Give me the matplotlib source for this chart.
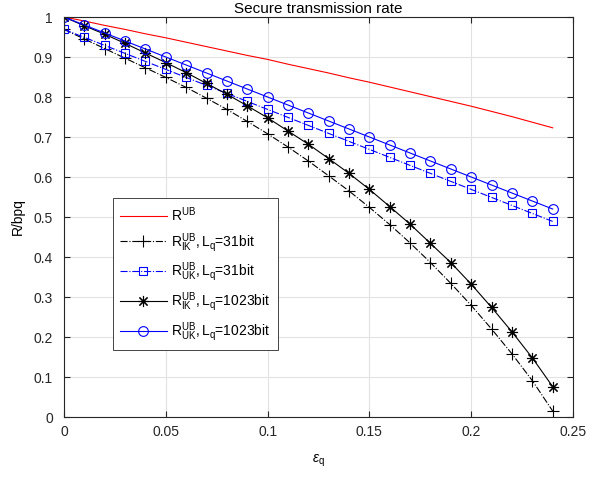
import matplotlib
matplotlib.use("Agg")
import matplotlib.pyplot as plt

plt.rcParams['font.family'] = ['Liberation Sans', 'DejaVu Sans']
plt.rcParams['mathtext.fontset'] = 'custom'
plt.rcParams['mathtext.rm'] = 'Liberation Sans'
plt.rcParams['mathtext.it'] = 'Liberation Sans:italic'

# quantization error probability
eps_q = [0.00, 0.01, 0.02, 0.03, 0.04, 0.05, 0.06, 0.07, 0.08, 0.09,
         0.10, 0.11, 0.12, 0.13, 0.14, 0.15, 0.16, 0.17, 0.18, 0.19,
         0.20, 0.21, 0.22, 0.23, 0.24]

# upper bound rate
r_ub = [1.000, 0.990, 0.979, 0.969, 0.958, 0.948, 0.937, 0.926, 0.915, 0.904,
        0.894, 0.882, 0.871, 0.860, 0.848, 0.837, 0.825, 0.813, 0.801, 0.789,
        0.777, 0.764, 0.751, 0.737, 0.723]

# known / unknown key, Lq = 31 bit
r_ik_31 = [0.969, 0.945, 0.921, 0.897, 0.873, 0.849, 0.824, 0.797, 0.769, 0.739,
           0.708, 0.675, 0.640, 0.603, 0.565, 0.524, 0.481, 0.435, 0.386, 0.334,
           0.279, 0.220, 0.158, 0.091, 0.015]
r_uk_31 = [0.969, 0.949, 0.929, 0.909, 0.889, 0.869, 0.849, 0.829, 0.809, 0.789,
           0.769, 0.749, 0.729, 0.709, 0.689, 0.669, 0.649, 0.629, 0.609, 0.589,
           0.569, 0.549, 0.529, 0.509, 0.489]

# known / unknown key, Lq = 1023 bit
r_ik_1023 = [1.000, 0.978, 0.957, 0.934, 0.910, 0.886, 0.861, 0.834, 0.807, 0.778,
             0.748, 0.715, 0.682, 0.646, 0.609, 0.569, 0.526, 0.482, 0.434, 0.386,
             0.332, 0.274, 0.213, 0.148, 0.076]
r_uk_1023 = [1.00, 0.98, 0.96, 0.94, 0.92, 0.90, 0.88, 0.86, 0.84, 0.82,
             0.80, 0.78, 0.76, 0.74, 0.72, 0.70, 0.68, 0.66, 0.64, 0.62,
             0.60, 0.58, 0.56, 0.54, 0.52]

fig = plt.figure(figsize=(6.04, 4.78), dpi=100)
ax = fig.add_axes([0.106, 0.1276, 0.8427, 0.8368])

lw = 0.8
ax.plot(eps_q, r_ub, color='red', lw=lw, label=r'$\mathregular{R^{UB}}$')
ax.plot(eps_q, r_ik_31, color='black', ls='-.', lw=lw, marker='+', ms=8,
        mew=0.8, label=r'$\mathregular{R^{UB}_{IK},L_q}$=31bit')
ax.plot(eps_q, r_uk_31, color='blue', ls='-.', lw=lw, marker='s', ms=5.5,
        mew=0.8, mfc='none', label=r'$\mathregular{R^{UB}_{UK},L_q}$=31bit')
ax.plot(eps_q, r_ik_1023, color='black', ls='-', lw=lw, marker=(8, 2, 0), ms=8,
        mew=0.8, label=r'$\mathregular{R^{UB}_{IK},L_q}$=1023bit')
ax.plot(eps_q, r_uk_1023, color='blue', ls='-', lw=lw, marker='o', ms=7,
        mew=0.8, mfc='none', label=r'$\mathregular{R^{UB}_{UK},L_q}$=1023bit')

ax.set_xlim(0, 0.25)
ax.set_ylim(0, 1)
ax.set_xticks([0, 0.05, 0.1, 0.15, 0.2, 0.25])
ax.set_xticklabels(['0', '0.05', '0.1', '0.15', '0.2', '0.25'])
ax.set_yticks([i / 10 for i in range(11)])
ax.set_yticklabels(['0', '0.1', '0.2', '0.3', '0.4', '0.5', '0.6', '0.7', '0.8', '0.9', '1'])

ax.grid(True, color='#e2e2e2', lw=0.8)
ax.set_axisbelow(True)
for s in ax.spines.values():
    s.set_color('#262626')
    s.set_linewidth(0.8)
ax.tick_params(direction='in', length=4, width=0.8, colors='#262626',
               labelsize=10, top=True, right=True)
ax.tick_params(axis='y', pad=8)
ax.tick_params(axis='x', pad=6)

ax.set_title('Secure transmission rate', fontsize=11, pad=3)
ax.set_ylabel('R/bpq', fontsize=10)
ax.yaxis.set_label_coords(-0.076, 0.5)
ax.set_xlabel(r'$\epsilon_\mathregular{q}$', fontsize=10)
ax.xaxis.set_label_coords(0.5, -0.09)

leg = ax.legend(loc='lower left', bbox_to_anchor=(0.096, 0.1675), borderaxespad=0,
                fontsize=10, handlelength=3.4, handletextpad=0.3, labelspacing=0.5,
                fancybox=False, framealpha=1, edgecolor='#262626', borderpad=0.5)
leg.get_frame().set_linewidth(0.6)

fig.savefig('out.png', dpi=100)
